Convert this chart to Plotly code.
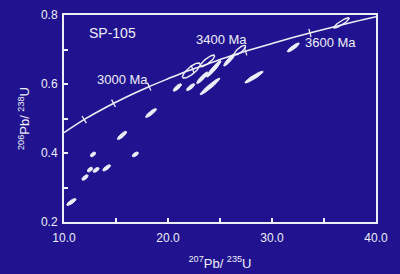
import numpy as np
import plotly.graph_objects as go

# Concordia curve (207Pb/235U, 206Pb/238U)
conc_x = [10, 12, 14, 16, 18, 20, 22, 24, 26, 28, 30, 32, 34, 36, 38, 40]
conc_y = [0.459, 0.498, 0.532, 0.5625, 0.590, 0.615, 0.639, 0.660, 0.681, 0.700,
          0.7175, 0.7345, 0.7507, 0.766, 0.781, 0.795]

# Age tick marks on the concordia (Ma) and their positions
age_ma = [2600, 2800, 3000, 3200, 3400, 3600]
age_x = [11.94, 14.76, 18.19, 22.37, 27.46, 33.65]
age_y = [0.4968, 0.5440, 0.5926, 0.6428, 0.6945, 0.7478]

# Filled analysis ellipses: centre, half-extent in x and y, error correlation
fill_cx = [10.71, 12.02, 12.50, 13.08, 12.79, 14.10, 15.58, 16.86, 18.37, 20.90,
           22.18, 24.04, 23.30, 24.40, 25.90, 28.27, 32.05]
fill_cy = [0.258, 0.329, 0.352, 0.351, 0.396, 0.357, 0.451, 0.396, 0.516, 0.590,
           0.591, 0.593, 0.618, 0.644, 0.670, 0.620, 0.706]
fill_hx = [0.45, 0.30, 0.25, 0.30, 0.25, 0.38, 0.45, 0.30, 0.53, 0.40,
           0.40, 0.95, 0.55, 0.70, 0.55, 0.88, 0.58]
fill_hy = [0.010, 0.008, 0.007, 0.007, 0.007, 0.009, 0.012, 0.007, 0.013, 0.011,
           0.010, 0.024, 0.017, 0.024, 0.018, 0.017, 0.013]
fill_rho = [0.80, 0.66, 0.55, 0.60, 0.55, 0.75, 0.84, 0.60, 0.87, 0.80,
            0.79, 0.955, 0.90, 0.94, 0.91, 0.93, 0.88]

# Open (outlined) ellipses
open_cx = [22.24, 23.80, 26.92, 36.68]
open_cy = [0.639, 0.667, 0.698, 0.777]
open_hx = [0.85, 0.70, 0.55, 0.75]
open_hy = [0.022, 0.017, 0.014, 0.015]
open_rho = [0.805, 0.85, 0.80, 0.90]

x_ticks = [10, 15, 20, 25, 30, 35, 40]
x_labels = ["10.0", "", "20.0", "", "30.0", "", "40.0"]
y_ticks = [0.2, 0.3, 0.4, 0.5, 0.6, 0.7, 0.8]
y_labels = ["0.2", "", "0.4", "", "0.6", "", "0.8"]

BG = "#21138f"
FG = "#eeeef6"
FONT = "Liberation Sans, Arial, sans-serif"
PXX = 312 / 30.0   # px per x unit (for tick orientation)
PXY = 207 / 0.6    # px per y unit


def ellipse(cx, cy, sx, sy, rho, n=72):
    t = np.linspace(0, 2 * np.pi, n)
    x = cx + sx * np.cos(t)
    y = cy + sy * (rho * np.cos(t) + np.sqrt(1 - rho ** 2) * np.sin(t))
    return x, y


fig = go.Figure()

fig.add_trace(go.Scatter(x=conc_x, y=conc_y, mode="lines", line=dict(color=FG, width=1.6, shape="spline"),
                         hoverinfo="skip", showlegend=False))

# tick marks perpendicular to the curve
slope = np.gradient(np.array(conc_y), np.array(conc_x))
tick_slope = np.interp(age_x, conc_x, slope)
angles = [-np.degrees(np.arctan2(s * PXY, PXX)) for s in tick_slope]
fig.add_trace(go.Scatter(x=age_x, y=age_y, mode="markers",
                         marker=dict(symbol="line-ns", size=6, angle=angles,
                                     line=dict(color=FG, width=1.3)),
                         hoverinfo="skip", showlegend=False))

for i in range(len(fill_cx)):
    ex, ey = ellipse(fill_cx[i], fill_cy[i], fill_hx[i], fill_hy[i], fill_rho[i])
    fig.add_trace(go.Scatter(x=ex, y=ey, mode="lines", fill="toself", fillcolor=FG,
                             line=dict(color=FG, width=1), hoverinfo="skip", showlegend=False))

for i in range(len(open_cx)):
    ex, ey = ellipse(open_cx[i], open_cy[i], open_hx[i], open_hy[i], open_rho[i])
    fig.add_trace(go.Scatter(x=ex, y=ey, mode="lines",
                             line=dict(color=FG, width=1.4), hoverinfo="skip", showlegend=False))

annots = [
    dict(x=14.71, y=0.748, text="SP-105", size=14),
    dict(x=15.58, y=0.612, text="3000 Ma", size=13),
    dict(x=25.10, y=0.728, text="3400 Ma", size=13),
    dict(x=35.67, y=0.720, text="3600 Ma", size=13),
]
for a in annots:
    fig.add_annotation(x=a["x"], y=a["y"], text=a["text"], showarrow=False,
                       font=dict(family=FONT, color=FG, size=a["size"]))

axis_common = dict(showline=True, linecolor=FG, linewidth=2, mirror=True, ticks="inside",
                   tickcolor=FG, ticklen=4, tickwidth=1.5, showgrid=False, zeroline=False,
                   automargin=False,
                   tickfont=dict(family=FONT, color=FG, size=12))

fig.update_layout(
    width=400, height=274,
    margin=dict(l=64, r=24, t=15, b=52),
    paper_bgcolor=BG, plot_bgcolor=BG,
    xaxis=dict(range=[10, 40], tickvals=x_ticks, ticktext=x_labels, ticklabelstandoff=4,
               title=dict(text="<sup>207</sup>Pb/ <sup>235</sup>U", standoff=14,
                          font=dict(family=FONT, color=FG, size=13)),
               **axis_common),
    yaxis=dict(range=[0.2, 0.8], tickvals=y_ticks, ticktext=y_labels, ticklabelstandoff=2,
               title=dict(text="<sup>206</sup>Pb/ <sup>238</sup>U", standoff=8,
                          font=dict(family=FONT, color=FG, size=13)),
               **axis_common),
)

fig.write_html("out.html")
